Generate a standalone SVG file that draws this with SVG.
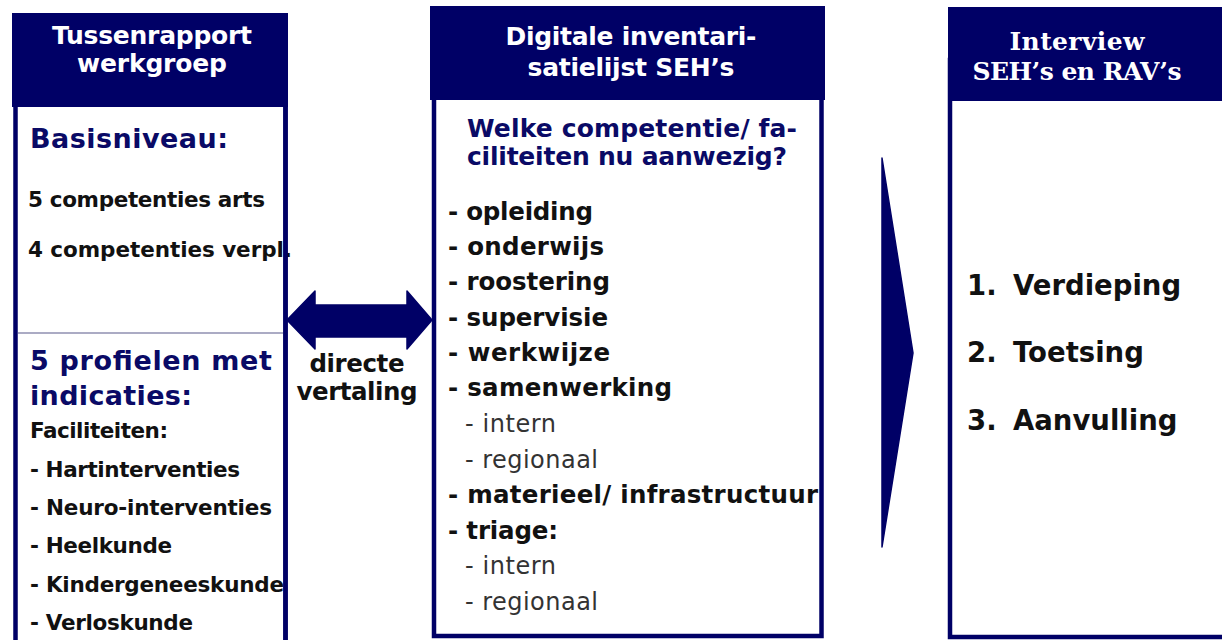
<svg xmlns="http://www.w3.org/2000/svg" width="1222" height="640" viewBox="0 0 1222 640">
<style>
.hdr{fill:#000066;}
.box{fill:#ffffff;stroke:#000066;stroke-width:4.5;}
.ht{font-family:"DejaVu Sans","Verdana",sans-serif;font-weight:bold;font-size:25px;fill:#ffffff;text-anchor:middle;}
.hts{font-family:"DejaVu Serif","Liberation Serif",serif;font-weight:bold;font-size:25px;fill:#ffffff;text-anchor:middle;}
.nv{font-family:"DejaVu Sans",sans-serif;font-weight:bold;font-size:27px;fill:#0a0a66;}
.nv2{font-family:"DejaVu Sans",sans-serif;font-weight:bold;font-size:25px;fill:#0a0a66;}
.b20{font-family:"DejaVu Sans",sans-serif;font-weight:bold;font-size:21.5px;fill:#111111;}
.b23{font-family:"DejaVu Sans",sans-serif;font-weight:bold;font-size:24.5px;fill:#111111;}
.r23{font-family:"DejaVu Sans",sans-serif;font-size:24px;fill:#333333;}
.b26{font-family:"DejaVu Sans",sans-serif;font-weight:bold;font-size:27.5px;fill:#111111;}
.conn{fill:#000066;stroke:#000066;stroke-width:1.5;stroke-linejoin:round;}
</style>

<g id="node-tussenrapport">
  <rect class="box" x="15.5" y="20" width="270" height="640"/>
  <line x1="18" y1="333" x2="283" y2="333" stroke="#8f8fb0" stroke-width="1.5"/>
  <text class="nv" x="30" y="148" textLength="198" lengthAdjust="spacing">Basisniveau:</text>
  <text class="b20" x="28" y="207" textLength="237" lengthAdjust="spacing">5 competenties arts</text>
  <text class="b20" x="28" y="257" textLength="264" lengthAdjust="spacing">4 competenties verpl.</text>
  <text class="nv" x="30" y="370" textLength="242" lengthAdjust="spacing">5 profielen met</text>
  <text class="nv" x="30" y="405" textLength="162" lengthAdjust="spacing">indicaties:</text>
  <text class="b20" x="30" y="438" textLength="138" lengthAdjust="spacing">Faciliteiten:</text>
  <text class="b20" x="30" y="477" textLength="210" lengthAdjust="spacing">- Hartinterventies</text>
  <text class="b20" x="30" y="515" textLength="242" lengthAdjust="spacing">- Neuro-interventies</text>
  <text class="b20" x="30" y="553" textLength="142" lengthAdjust="spacing">- Heelkunde</text>
  <text class="b20" x="30" y="592" textLength="254" lengthAdjust="spacing">- Kindergeneeskunde</text>
  <text class="b20" x="30" y="630" textLength="163" lengthAdjust="spacing">- Verloskunde</text>
  <line x1="285.5" y1="105" x2="285.5" y2="640" stroke="#000066" stroke-width="4.5"/>
  <rect class="hdr" x="12" y="13" width="276" height="94"/>
  <text class="ht" x="152" y="44" textLength="200" lengthAdjust="spacing">Tussenrapport</text>
  <text class="ht" x="152" y="72" textLength="150" lengthAdjust="spacing">werkgroep</text>
</g>

<g id="node-inventarisatielijst">
  <rect class="box" x="434" y="60" width="387.5" height="576"/>
  <rect class="hdr" x="430" y="6" width="395" height="94"/>
  <text class="ht" x="631" y="45" textLength="251" lengthAdjust="spacing">Digitale inventari-</text>
  <text class="ht" x="631" y="76" textLength="207" lengthAdjust="spacing">satielijst SEH’s</text>
  <text class="nv2" x="467" y="137" textLength="330" lengthAdjust="spacing">Welke competentie/ fa-</text>
  <text class="nv2" x="467" y="165" textLength="320" lengthAdjust="spacing">ciliteiten nu aanwezig?</text>
  <text class="b23" x="448" y="220" textLength="145" lengthAdjust="spacing">- opleiding</text>
  <text class="b23" x="448" y="255" textLength="156" lengthAdjust="spacing">- onderwijs</text>
  <text class="b23" x="448" y="290" textLength="162" lengthAdjust="spacing">- roostering</text>
  <text class="b23" x="448" y="326" textLength="160" lengthAdjust="spacing">- supervisie</text>
  <text class="b23" x="448" y="361" textLength="162" lengthAdjust="spacing">- werkwijze</text>
  <text class="b23" x="448" y="396" textLength="224" lengthAdjust="spacing">- samenwerking</text>
  <text class="r23" x="465" y="432" textLength="91" lengthAdjust="spacing">- intern</text>
  <text class="r23" x="465" y="468" textLength="133" lengthAdjust="spacing">- regionaal</text>
  <text class="b23" x="448" y="503" textLength="370" lengthAdjust="spacing">- materieel/ infrastructuur</text>
  <text class="b23" x="448" y="539" textLength="110" lengthAdjust="spacing">- triage:</text>
  <text class="r23" x="465" y="574" textLength="91" lengthAdjust="spacing">- intern</text>
  <text class="r23" x="465" y="610" textLength="133" lengthAdjust="spacing">- regionaal</text>
</g>

<g id="node-interview">
  <rect class="box" x="950" y="60" width="300" height="577"/>
  <rect class="hdr" x="948" y="7" width="280" height="94"/>
  <text class="hts" x="1077" y="50" textLength="135" lengthAdjust="spacing">Interview</text>
  <text class="hts" x="1077" y="80" textLength="209" lengthAdjust="spacing">SEH’s en RAV’s</text>
  <text class="b26" x="967" y="295"><tspan>1.</tspan><tspan x="1013">Verdieping</tspan></text>
  <text class="b26" x="967" y="362"><tspan>2.</tspan><tspan x="1013">Toetsing</tspan></text>
  <text class="b26" x="967" y="430"><tspan>3.</tspan><tspan x="1013">Aanvulling</tspan></text>
</g>

<g id="connectors">
  <g id="conn-directe-vertaling">
    <polygon class="conn" points="287,320 315,291 315,305 407,305 407,291 432,320 407,349 407,337 315,337 315,349"/>
    <text class="b23" x="357" y="372" text-anchor="middle" textLength="95" lengthAdjust="spacing">directe</text>
    <text class="b23" x="357" y="400" text-anchor="middle" textLength="121" lengthAdjust="spacing">vertaling</text>
  </g>
  <polygon id="conn-inventarisatie-interview" class="conn" points="882,158 913,353 882,547"/>
</g>
</svg>
